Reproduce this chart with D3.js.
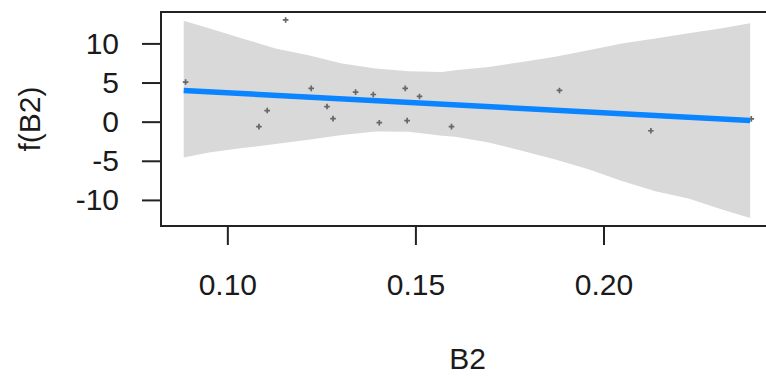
<!DOCTYPE html>
<html>
<head>
<meta charset="utf-8">
<script src="https://cdn.jsdelivr.net/npm/d3@7"></script>
<style>
  body { margin: 0; background: #fff; }
  svg { display: block; font-family: "Liberation Sans", Arial, sans-serif; }
</style>
</head>
<body>
<figure id="plot" style="margin:0"></figure>
<script>
// confidence band of the fitted term
const bandX = [0.0884, 0.0951, 0.1040, 0.1128, 0.1216, 0.1305, 0.1394, 0.1482, 0.1571, 0.1606,
               0.1695, 0.1783, 0.1872, 0.1960, 0.2049, 0.2138, 0.2226, 0.2315, 0.2390];
const bandUpper = [12.91, 11.93, 10.64, 9.36, 8.49, 7.43, 6.78, 6.44, 6.34, 6.56,
                   6.99, 7.63, 8.28, 9.14, 10.00, 10.64, 11.29, 11.93, 12.57];
const bandLower = [-4.59, -3.95, -3.38, -2.87, -2.30, -1.70, -1.25, -1.29, -1.80, -1.93,
                   -2.66, -3.73, -4.83, -6.09, -7.59, -8.88, -9.82, -11.24, -12.32];

// fitted line (end points)
const fitX = [0.0884, 0.2390];
const fitY = [3.99, 0.15];

// partial residuals
const pointX = [0.0889, 0.1084, 0.1106, 0.1155, 0.1223, 0.1265, 0.1281, 0.1341, 0.1388,
                0.1404, 0.1473, 0.1478, 0.1511, 0.1596, 0.1883, 0.2126, 0.2393];
const pointY = [5.06, -0.64, 1.42, 13.0, 4.25, 1.93, 0.39, 3.77, 3.47,
                -0.13, 4.25, 0.13, 3.22, -0.64, 3.99, -1.16, 0.35];

const xTicks = [0.10, 0.15, 0.20];
const yTicks = [-10, -5, 0, 5, 10];

const width = 766, height = 377;
const boxLeft = 161, boxRight = 774, boxTop = 12, boxBottom = 226;

const svg = d3.select('#plot')
  .append('svg')
  .attr('width', width)
  .attr('height', height);

// R style 4% padding around the data range
function padded(vals) {
  const [lo, hi] = d3.extent(vals);
  const e = (hi - lo) * 0.04;
  return [lo - e, hi + e];
}

const x = d3.scaleLinear()
  .domain(padded(bandX.concat(pointX)))
  .range([boxLeft, boxRight]);

const y = d3.scaleLinear()
  .domain(padded(pointY.concat(bandUpper, bandLower)))
  .range([boxBottom, boxTop]);

const band = bandX.map((v, i) => ({ x: v, lo: bandLower[i], hi: bandUpper[i] }));

svg.append('path')
  .datum(band)
  .attr('fill', '#d9d9d9')
  .attr('d', d3.area()
    .x(d => x(d.x))
    .y0(d => y(d.lo))
    .y1(d => y(d.hi)));

// points as "+" marks
const pts = svg.append('g')
  .attr('stroke', '#666')
  .attr('stroke-width', 1.7);
pts.selectAll('path')
  .data(pointX.map((v, i) => [v, pointY[i]]))
  .enter()
  .append('path')
  .attr('d', d => {
    const cx = x(d[0]), cy = y(d[1]), r = 2.8;
    return `M${cx - r},${cy}H${cx + r}M${cx},${cy - r}V${cy + r}`;
  });

svg.append('path')
  .datum(fitX.map((v, i) => [v, fitY[i]]))
  .attr('fill', 'none')
  .attr('stroke', '#0a84ff')
  .attr('stroke-width', 5.5)
  .attr('d', d3.line().x(d => x(d[0])).y(d => y(d[1])));

// frame
svg.append('rect')
  .attr('x', boxLeft)
  .attr('y', boxTop)
  .attr('width', boxRight - boxLeft)
  .attr('height', boxBottom - boxTop)
  .attr('fill', 'none')
  .attr('stroke', '#222')
  .attr('stroke-width', 2);

const fs = 30;

const yAxis = svg.append('g')
  .attr('transform', 'translate(' + boxLeft + ',0)')
  .call(d3.axisLeft(y).tickValues(yTicks).tickSize(19).tickPadding(23));
yAxis.select('.domain').remove();
yAxis.selectAll('line').attr('stroke', '#222').attr('stroke-width', 2);
yAxis.selectAll('text')
  .attr('fill', '#1a1a1a')
  .style('font-size', fs + 'px')
  .style('font-family', '"Liberation Sans", Arial, sans-serif')
  .text(d => d < 0 ? '-' + Math.abs(d) : d);

const xAxis = svg.append('g')
  .attr('transform', 'translate(0,' + boxBottom + ')')
  .call(d3.axisBottom(x).tickValues(xTicks).tickSize(19).tickPadding(29).tickFormat(d3.format('.2f')));
xAxis.select('.domain').remove();
xAxis.selectAll('line').attr('stroke', '#222').attr('stroke-width', 2);
xAxis.selectAll('text')
  .attr('fill', '#1a1a1a')
  .style('font-size', fs + 'px')
  .style('font-family', '"Liberation Sans", Arial, sans-serif');

svg.append('text')
  .attr('x', (boxLeft + boxRight) / 2)
  .attr('y', 369)
  .attr('text-anchor', 'middle')
  .attr('fill', '#1a1a1a')
  .style('font-size', fs + 'px')
  .text('B2');

svg.append('text')
  .attr('transform', 'translate(40,' + (boxTop + boxBottom) / 2 + ') rotate(-90)')
  .attr('text-anchor', 'middle')
  .attr('fill', '#1a1a1a')
  .style('font-size', fs + 'px')
  .text('f(B2)');
</script>
</body>
</html>
